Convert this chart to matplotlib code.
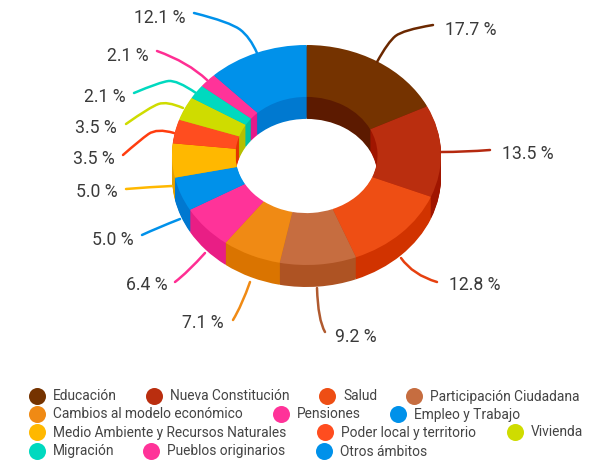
import matplotlib
matplotlib.use('Agg')
import matplotlib.pyplot as plt
from matplotlib.path import Path
from matplotlib.patches import PathPatch

plt.rcParams['font.family'] = ['Roboto', 'DejaVu Sans']

# Data
categories = ['Educación', 'Nueva Constitución', 'Salud', 'Participación Ciudadana',
              'Cambios al modelo económico', 'Pensiones', 'Empleo y Trabajo',
              'Medio Ambiente y Recursos Naturales', 'Poder local y territorio', 'Vivienda',
              'Migración', 'Pueblos originarios', 'Otros ámbitos']
values = [17.7, 13.5, 12.8, 9.2, 7.1, 6.4, 5.0, 5.0, 3.5, 3.5, 2.1, 2.1, 12.1]

# Colours
top_colors = ['#753300', '#BA2E0F', '#EE4E14', '#C66D40', '#F08A14', '#FF3399', '#0091EA',
              '#FFB800', '#FF4D1F', '#CFDC00', '#00D9BF', '#FF3399', '#0091EA']
wall_colors = ['#5C1A00', '#A01500', '#D13300', '#AE5323', '#DA7400', '#E91E85', '#0078D0',
               '#E5A000', '#E53300', '#B5BF00', '#00BFA5', '#E6198A', '#0079D0']
leader_colors = ['#6B2800', '#B5290F', '#E6400F', '#B05A2F', '#F08A14', '#FF2E93', '#0091EA',
                 '#FFB800', '#FF3D0F', '#CFDC00', '#00D9BF', '#FF2E93', '#0091EA']

# Layout, everything in reference pixels
W, H = 595, 463
cx, cy, rx, ry = 306.5, 155, 134.5, 110
depth = 22
hole = 0.528

label_pos = [(445, 30), (502, 154), (449, 285), (335, 337), (182, 323), (126, 285), (92, 240),
             (76, 192), (73, 159.5), (75, 128), (84, 97), (107, 56), (134, 18)]
leaders = [
    [(377, 62), (388, 42), (403, 30), (433, 25)],
    [(441, 152), (465, 152), (490, 150)],
    [(401, 258), (413, 275), (437, 282)],
    [(317, 288), (318, 320), (325, 332)],
    [(250, 282), (242, 305), (233, 320)],
    [(205, 253), (188, 272), (175, 282)],
    [(180, 219), (157, 228), (142, 235)],
    [(172, 186), (150, 187), (126, 189)],
    [(174, 133), (157, 128), (140, 140), (123, 155)],
    [(183, 108), (167, 101), (150, 107), (126, 124)],
    [(196, 93), (177, 80), (160, 82), (134, 93)],
    [(207, 80), (188, 62), (157, 51)],
    [(257, 53), (250, 37), (230, 22), (194, 13)],
]

legend_rows = [396, 396, 396, 396, 414, 414, 414, 432, 432, 432, 451, 451, 451]
legend_x = [37, 154, 327, 414, 37, 281, 398, 37, 325, 515, 37, 151, 324]


def smooth_path(points):
    # quadratic curve through the midpoints of the control polygon
    verts = [points[0]]
    codes = [Path.MOVETO]
    for i in range(1, len(points) - 1):
        verts.append(points[i])
        codes.append(Path.CURVE3)
        if i < len(points) - 2:
            verts.append(((points[i][0] + points[i + 1][0]) / 2, (points[i][1] + points[i + 1][1]) / 2))
        else:
            verts.append(points[-1])
        codes.append(Path.CURVE3)
    return Path(verts, codes)


fig = plt.figure(figsize=(W / 100, H / 100), dpi=100, facecolor='white')

# Donut axes: one data unit is the radius, squashed into an ellipse
ax = fig.add_axes([0, 0, 1, 1])
for step in range(depth, -1, -1):
    colors = wall_colors if step > 0 else top_colors
    ax.pie(values, colors=colors, startangle=90, counterclock=False, radius=1,
           center=(0, -step / ry), wedgeprops={'width': 1 - hole, 'linewidth': 0})
ax.set_aspect('auto')
ax.set_xlim(-cx / rx, (W - cx) / rx)
ax.set_ylim((cy - H) / ry, cy / ry)
ax.axis('off')

# Overlay in pixel coordinates
ov = fig.add_axes([0, 0, 1, 1])
ov.set_xlim(0, W)
ov.set_ylim(H, 0)
ov.axis('off')
ov.patch.set_alpha(0)

for value, pos, pts, color in zip(values, label_pos, leaders, leader_colors):
    ov.add_patch(PathPatch(smooth_path(pts), fill=False, edgecolor=color, linewidth=1.8, capstyle='round'))
    ov.text(pos[0], pos[1], f'{value:.1f} %', fontsize=12.7, color='#3A3A3A', ha='left', va='center')

for name, color, x, y in zip(categories, top_colors, legend_x, legend_rows):
    ov.scatter([x], [y], s=150, color=color, linewidths=0)
    ov.text(x + 16, y + 0.5, name, fontsize=9.95, color='#444444', ha='left', va='center')

fig.savefig('out.png', dpi=100)
